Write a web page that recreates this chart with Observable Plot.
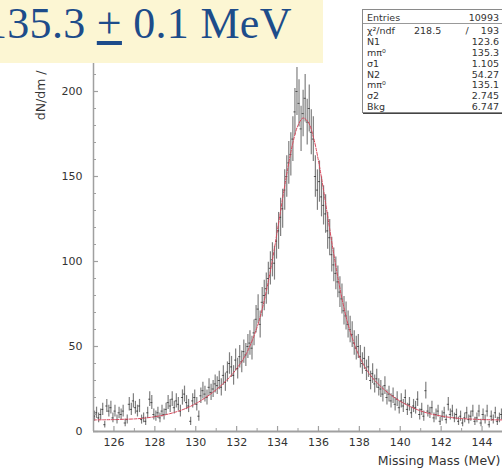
<!DOCTYPE html>
<html>
<head>
<meta charset="utf-8">
<script src="https://cdn.jsdelivr.net/npm/d3@7"></script>
<script src="https://cdn.jsdelivr.net/npm/@observablehq/plot@0.6"></script>
<style>
  body { margin: 0; background: #fff; }
  #wrap { position: relative; width: 502px; height: 470px; overflow: hidden; background: #fff; }
  #title { position: absolute; left: 0; top: 0; width: 323px; height: 63px; background: #fcf6d3; overflow: hidden; }
  #title span.t { position: absolute; left: -15px; top: 2px; line-height: 44px; font-family: "Liberation Serif", "DejaVu Serif", serif; font-size: 44px; letter-spacing: 0.3px; color: #1d4c8a; white-space: nowrap; }
  #stats { position: absolute; left: 362px; top: 9px; width: 150px; height: 102px; background: #fff; border: 1px solid #8a8a8a; box-shadow: 1px 1px 0 #444; font-family: "DejaVu Sans", sans-serif; font-size: 9.5px; color: #333; }
  #stats .row { position: absolute; left: 4px; width: 132px; height: 11px; line-height: 11px; }
  #stats .row .l { position: absolute; left: 0; }
  #stats .row .v { position: absolute; right: 0; }
  #stats .row .m { position: absolute; left: 47px; }
  #stats .sep { position: absolute; left: 0; width: 150px; top: 13px; border-top: 1px solid #999; }
</style>
</head>
<body>
<div id="wrap"></div>
<script>
// ---------- data ----------
const massLo = 125, massHi = 145, binWidth = 0.1;
// histogram counts per 0.1 MeV bin, 125.0 .. 145.0 MeV
const counts = [
  9, 11, 8, 10, 13, 4, 15, 12, 14, 8,
  12, 7, 11, 10, 12, 5, 7, 16, 13, 18,
  14, 12, 15, 7, 8, 6, 11, 19, 17, 10,
  9, 11, 8, 12, 10, 13, 17, 15, 19, 14,
  18, 16, 12, 20, 22, 17, 15, 6, 18, 20,
  16, 9, 21, 24, 22, 20, 26, 23, 25, 28,
  27, 30, 26, 33, 29, 35, 40, 38, 33, 42,
  37, 44, 41, 47, 45, 50, 52, 49, 58, 66,
  72, 63, 76, 80, 84, 90, 96, 101, 99, 112,
  118, 126, 131, 142, 150, 158, 163, 172, 188, 200,
  193, 178, 187, 196, 182, 190, 176, 172, 150, 142,
  147, 138, 133, 128, 118, 114, 104, 98, 93, 88,
  82, 78, 71, 68, 63, 60, 57, 52, 49, 50,
  44, 40, 43, 36, 38, 30, 34, 28, 31, 26,
  25, 22, 27, 20, 22, 18, 21, 16, 19, 14,
  18, 15, 20, 13, 16, 11, 15, 14, 19, 10,
  13, 9, 24, 12, 11, 14, 8, 10, 12, 6,
  9, 11, 7, 16, 10, 12, 8, 10, 6, 9,
  5, 8, 11, 7, 9, 12, 6, 8, 12, 5,
  10, 7, 12, 4, 9, 7, 11, 6, 8, 10
];
// fitted curve (double Gaussian + flat background)
const fitMass = [125, 125.5, 126, 126.5, 127, 127.5, 128, 128.5, 129, 129.5, 130, 130.5, 131, 131.5, 132, 132.5, 133, 133.25, 133.5, 133.75, 134, 134.25, 134.5, 134.75, 135, 135.25, 135.5, 135.75, 136, 136.25, 136.5, 136.75, 137, 137.25, 137.5, 138, 138.5, 139, 139.5, 140, 140.5, 141, 141.5, 142, 142.5, 143, 143.5, 144, 144.5, 145];
const fitValue = [6.8, 6.9, 7.0, 7.2, 7.4, 7.9, 8.7, 9.8, 11.4, 13.5, 16.4, 20.1, 24.6, 30.0, 36.9, 46.4, 61.4, 72.1, 85.3, 101.0, 118.7, 137.2, 154.8, 169.8, 180.1, 184.4, 182.0, 173.3, 159.3, 141.9, 122.9, 104.3, 87.3, 72.7, 60.8, 44.1, 33.8, 27.0, 21.9, 17.8, 14.6, 12.1, 10.3, 9.1, 8.2, 7.6, 7.3, 7.0, 6.9, 6.8];
const xTicks = [126, 128, 130, 132, 134, 136, 138, 140, 142, 144];
const xMinorTicks = [125, 127, 129, 131, 133, 135, 137, 139, 141, 143, 145];
const yTicks = [0, 50, 100, 150, 200];
const yMinorTicks = [10, 20, 30, 40, 60, 70, 80, 90, 110, 120, 130, 140, 160, 170, 180, 190, 210];
const statLabels = ["Entries", "χ²/ndf", "N1", "mπ⁰", "σ1", "N2", "mπ⁰", "σ2", "Bkg"];
const statValues = ["10993", "193", "123.6", "135.3", "1.105", "54.27", "135.1", "2.745", "6.747"];
const chiValue = "218.5";
const titleText = ["135.3 ", "+", " 0.1 MeV"];
const xLabel = "Missing Mass (MeV)";
const yLabel = "dN/dm /";

// ---------- build ----------
const bins = counts.map((n, i) => ({m: massLo + binWidth * (i + 0.5), n, err: Math.sqrt(n)}));
const fit = fitMass.map((m, i) => ({m, v: fitValue[i]}));

const W = 502, H = 470, mL = 93, mR = 0, mT = 57, mB = 39;
const fw = W - mL - mR, fh = H - mT - mB;
const axisColor = "#a0a0a0";
const font = "DejaVu Sans, sans-serif";

const chart = Plot.plot({
  width: W, height: H,
  marginLeft: mL, marginRight: mR, marginTop: mT, marginBottom: mB,
  style: {fontFamily: font, fontSize: "11px", color: "#333", background: "#fff"},
  x: {domain: [massLo, massHi]},
  y: {domain: [0, 220]},
  marks: [
    // error bars
    Plot.ruleX(bins, {x: "m", y1: d => d.n - d.err, y2: d => d.n + d.err, stroke: "#2a2a2a", strokeOpacity: 0.6, strokeWidth: 1.2}),
    Plot.ruleY(bins, {y: "n", x1: d => d.m - binWidth / 2, x2: d => d.m + binWidth / 2, stroke: "#222", strokeOpacity: 0.7, strokeWidth: 1}),
    // fit
    Plot.line(fit, {x: "m", y: "v", stroke: "#d9455a", strokeWidth: 1, strokeDasharray: "3,1.5", curve: "catmull-rom"}),
    // axis lines
    Plot.ruleY([0], {stroke: axisColor, strokeWidth: 2}),
    Plot.ruleX([massLo], {stroke: axisColor, strokeWidth: 1.5}),
    // inward ticks
    Plot.tickX(xTicks, {x: d => d, insetTop: fh - 5, stroke: axisColor, strokeWidth: 1.2}),
    Plot.tickX(xMinorTicks, {x: d => d, insetTop: fh - 3, stroke: axisColor}),
    Plot.tickY(yTicks, {y: d => d, insetRight: fw - 5, stroke: axisColor, strokeWidth: 1.2}),
    Plot.tickY(yMinorTicks, {y: d => d, insetRight: fw - 3, stroke: axisColor}),
    // tick labels
    Plot.axisX({ticks: xTicks, tickSize: 0, tickPadding: 7, label: null, fontSize: 11, fill: "#333"}),
    Plot.axisY({ticks: yTicks, tickSize: 0, tickPadding: 11, label: null, fontSize: 11, fill: "#333"}),
    // axis titles
    Plot.text([xLabel], {frameAnchor: "bottom-right", dx: -2, dy: 33, textAnchor: "end", fontSize: 12.5, fill: "#333"}),
    Plot.text([yLabel], {frameAnchor: "top-left", dx: 36 - mL, dy: 70 - mT, rotate: -90, textAnchor: "end", fontSize: 12.5, fill: "#333"})
  ]
});

const wrap = document.getElementById("wrap");
wrap.appendChild(chart);

// title box
const title = document.createElement("div");
title.id = "title";
const t = document.createElement("span");
t.className = "t";
t.appendChild(document.createTextNode(titleText[0]));
const pm = document.createElement("span");
pm.style.textDecoration = "underline";
pm.textContent = titleText[1];
t.appendChild(pm);
t.appendChild(document.createTextNode(titleText[2]));
title.appendChild(t);
wrap.appendChild(title);

// stats box
const stats = document.createElement("div");
stats.id = "stats";
statLabels.forEach((lab, i) => {
  const row = document.createElement("div");
  row.className = "row";
  row.style.top = (i === 0 ? 1.5 : 4 + i * 10.9) + "px";
  const l = document.createElement("span"); l.className = "l"; l.textContent = lab;
  const v = document.createElement("span"); v.className = "v";
  v.textContent = (i === 1 ? "/    " : "") + statValues[i];
  v.style.whiteSpace = "pre";
  row.appendChild(l);
  if (i === 1) { const m = document.createElement("span"); m.className = "m"; m.textContent = chiValue; row.appendChild(m); }
  row.appendChild(v);
  stats.appendChild(row);
});
const sep = document.createElement("div"); sep.className = "sep"; stats.appendChild(sep);
wrap.appendChild(stats);
</script>
</body>
</html>
